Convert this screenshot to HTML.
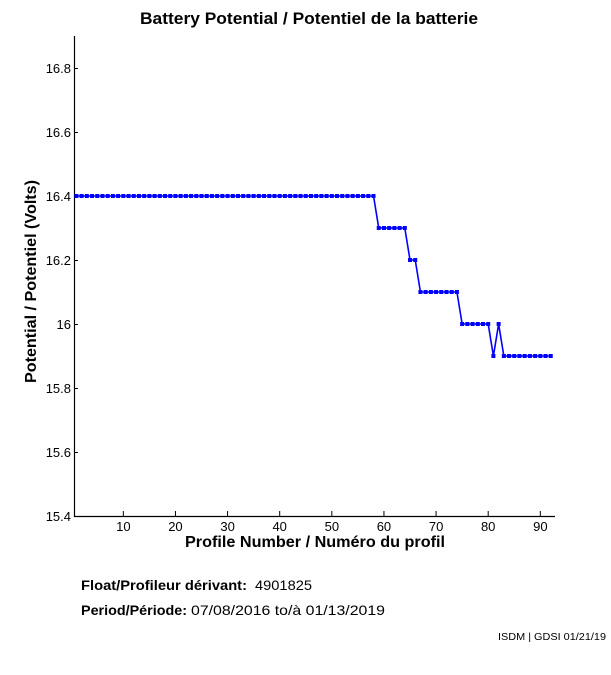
<!DOCTYPE html>
<html><head><meta charset="utf-8"><style>
html,body{margin:0;padding:0;background:#fff;}
svg{display:block;}
text{font-family:"Liberation Sans",Arial,Helvetica,sans-serif;fill:#000;}
</style></head><body>
<svg width="611" height="675" viewBox="0 0 611 675" xmlns="http://www.w3.org/2000/svg">
<defs>
<marker id="m" markerWidth="5" markerHeight="5" refX="2.5" refY="2.5" markerUnits="userSpaceOnUse">
<rect x="0.5" y="0.5" width="4" height="4" fill="#0000ff"/>
</marker>
</defs>
<text x="309" y="24" font-size="17" font-weight="bold" text-anchor="middle" textLength="338" lengthAdjust="spacingAndGlyphs">Battery Potential / Potentiel de la batterie</text>

<!-- axes -->
<path d="M74.5 36 V516.5 H555" stroke="#000" stroke-width="1.2" fill="none"/>
<!-- y ticks -->
<g stroke="#000" stroke-width="1">
<path d="M74 516.5h4M74 452.5h4M74 388.5h4M74 324.5h4M74 260.5h4M74 196.5h4M74 132.5h4M74 68.5h4"/>
<path d="M123.33 511v5M175.45 511v5M227.58 511v5M279.7 511v5M331.83 511v5M383.95 511v5M436.08 511v5M488.2 511v5M540.33 511v5"/>
</g>
<g font-size="13" text-anchor="end">
<text x="71" y="521">15.4</text>
<text x="71" y="457">15.6</text>
<text x="71" y="393">15.8</text>
<text x="71" y="329">16</text>
<text x="71" y="265">16.2</text>
<text x="71" y="201">16.4</text>
<text x="71" y="137">16.6</text>
<text x="71" y="73">16.8</text>
</g>
<g font-size="13" text-anchor="middle">
<text x="123.33" y="531">10</text>
<text x="175.45" y="531">20</text>
<text x="227.58" y="531">30</text>
<text x="279.7" y="531">40</text>
<text x="331.83" y="531">50</text>
<text x="383.95" y="531">60</text>
<text x="436.08" y="531">70</text>
<text x="488.2" y="531">80</text>
<text x="540.33" y="531">90</text>
</g>
<text x="315" y="547" font-size="16" font-weight="bold" text-anchor="middle" textLength="260" lengthAdjust="spacingAndGlyphs">Profile Number / Numéro du profil</text>
<text transform="translate(36,281.5) rotate(-90)" x="0" y="0" font-size="16" font-weight="bold" text-anchor="middle" textLength="203" lengthAdjust="spacingAndGlyphs">Potential / Potentiel (Volts)</text>

<polyline fill="none" stroke="#0000ff" stroke-width="1.6" marker-start="url(#m)" marker-mid="url(#m)" marker-end="url(#m)" points="76.41,196 81.63,196 86.84,196 92.05,196 97.26,196 102.48,196 107.69,196 112.90,196 118.11,196 123.33,196 128.54,196 133.75,196 138.96,196 144.18,196 149.39,196 154.60,196 159.81,196 165.03,196 170.24,196 175.45,196 180.66,196 185.88,196 191.09,196 196.30,196 201.51,196 206.73,196 211.94,196 217.15,196 222.36,196 227.58,196 232.79,196 238.00,196 243.21,196 248.43,196 253.64,196 258.85,196 264.06,196 269.28,196 274.49,196 279.70,196 284.91,196 290.13,196 295.34,196 300.55,196 305.76,196 310.98,196 316.19,196 321.40,196 326.61,196 331.83,196 337.04,196 342.25,196 347.46,196 352.68,196 357.89,196 363.10,196 368.31,196 373.53,196 378.74,228 383.95,228 389.16,228 394.38,228 399.59,228 404.80,228 410.01,260 415.23,260 420.44,292 425.65,292 430.86,292 436.08,292 441.29,292 446.50,292 451.71,292 456.93,292 462.14,324 467.35,324 472.56,324 477.78,324 482.99,324 488.20,324 493.41,356 498.63,324 503.84,356 509.05,356 514.26,356 519.48,356 524.69,356 529.90,356 535.11,356 540.33,356 545.54,356 550.75,356"/>

<text x="81" y="590" font-size="14" font-weight="bold" textLength="166" lengthAdjust="spacingAndGlyphs">Float/Profileur dérivant:</text>
<text x="255" y="590" font-size="14" textLength="57" lengthAdjust="spacingAndGlyphs">4901825</text>
<text x="81" y="615" font-size="14" font-weight="bold" textLength="106" lengthAdjust="spacingAndGlyphs">Period/Période:</text>
<text x="191" y="615" font-size="14" textLength="194" lengthAdjust="spacingAndGlyphs">07/08/2016  to/à  01/13/2019</text>
<text x="498" y="640" font-size="10" textLength="108" lengthAdjust="spacingAndGlyphs">ISDM | GDSI 01/21/19</text>
</svg>
</body></html>
